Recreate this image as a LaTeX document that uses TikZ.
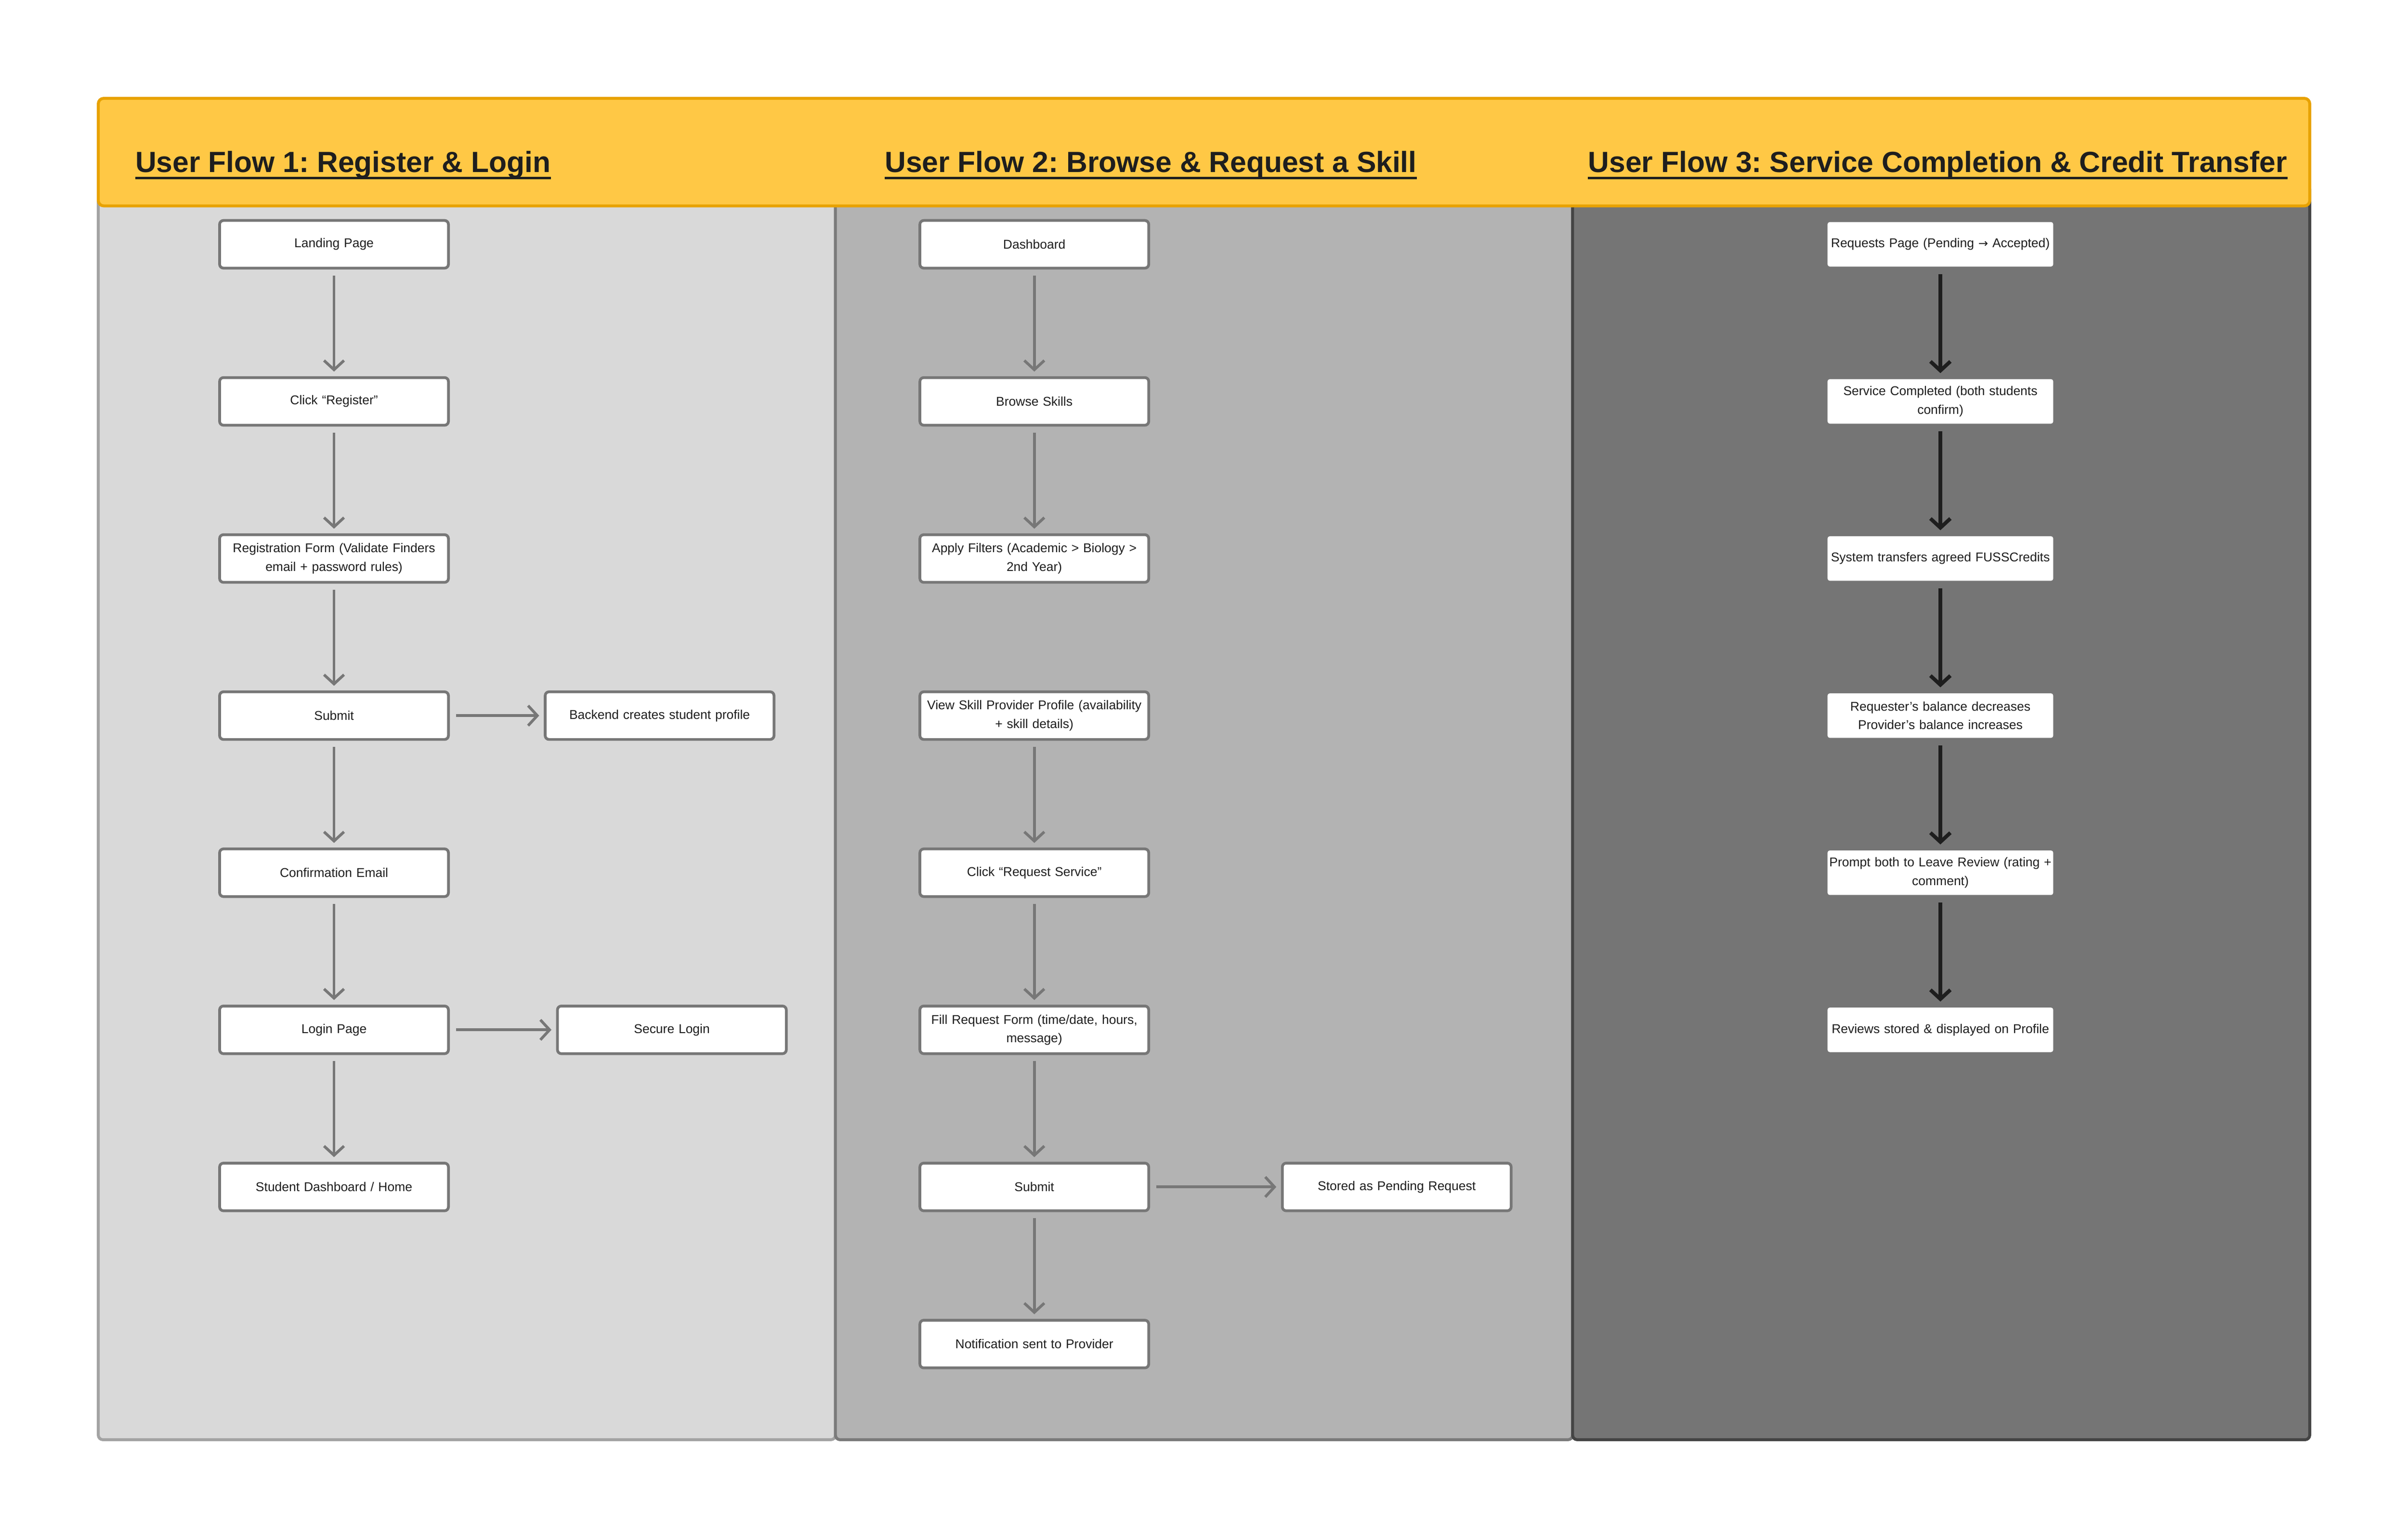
\documentclass[tikz,border=0pt]{standalone}
\usepackage{fontspec}
\setmainfont{Liberation Sans}
\newfontfamily\symbolfont{DejaVu Sans}
\usepackage{xcolor}
\usepackage{tikz}
\usetikzlibrary{positioning,calc,arrows.meta}
\frenchspacing

\definecolor{headfill}{HTML}{FFC845}
\definecolor{headline}{HTML}{E8A200}
\definecolor{laneonefill}{HTML}{D9D9D9}
\definecolor{laneoneline}{HTML}{A3A3A3}
\definecolor{lanetwofill}{HTML}{B3B3B3}
\definecolor{lanetwoline}{HTML}{7A7A7A}
\definecolor{lanethreefill}{HTML}{757575}
\definecolor{lanethreeline}{HTML}{444444}
\definecolor{boxline}{HTML}{777777}
\definecolor{ink}{HTML}{1E1E1E}

\tikzset{
    flowbox/.style={draw=boxline, line width=1.8pt, fill=white, rounded corners=2.5pt,
        minimum width=149pt, minimum height=31pt, text width=146pt, inner xsep=1.5pt,
        inner ysep=0pt, align=center, text=ink, font=\fontsize{8.3}{12}\selectfont},
    darkbox/.style={flowbox, draw=none, minimum width=147pt, minimum height=29pt,
        text width=145pt, inner xsep=1pt, rounded corners=1.5pt},
    flowarrow/.style={draw=boxline, line width=1.8pt, shorten <=4pt, shorten >=3pt,
        -{Straight Barb[length=6pt,width=13pt]}},
    darkarrow/.style={flowarrow, draw=ink, line width=2.4pt},
    flowtitle/.style={anchor=base west, inner sep=0pt, text=ink,
        font=\fontsize{19}{22}\selectfont\bfseries},
    lane/.style={line width=1.9pt, rounded corners=3pt}
}

\begin{document}
\begin{tikzpicture}[x=1pt, y=-1pt]
    \useasboundingbox (0,0) rectangle (1568,1001.4);

    % Swim lanes
    \draw [lane, fill=laneonefill, draw=laneoneline] (64,120) rectangle (544,937);
    \draw [lane, fill=lanetwofill, draw=lanetwoline] (544,120) rectangle (1024,937);
    \draw [lane, fill=lanethreefill, draw=lanethreeline] (1024,120) rectangle (1504,937);

    % Header band
    \draw [fill=headfill, draw=headline, line width=1.9pt, rounded corners=3.5pt] (64,64) rectangle (1504,134);

    % Titles
    \node [flowtitle] (t1) at (88,112) {User Flow 1: Register \& Login};
    \node [flowtitle] (t2) at (576,112) {User Flow 2: Browse \& Request a Skill};
    \node [flowtitle] (t3) at (1034,112) {User Flow 3: Service Completion \& Credit Transfer};
    \foreach \t in {t1,t2,t3} {
        \draw [ink, line width=1.6pt] ([yshift=-4pt]\t.base west) -- ([yshift=-4pt]\t.base east);
    }

    % Flow 1: register and login
    \foreach \i/\label in {1/Landing Page, 2/Click “Register”,
        3/{Registration Form (Validate Finders\\ email + password rules)}, 4/Submit,
        5/Confirmation Email, 6/Login Page, 7/{Student Dashboard / Home}} {
        \pgfmathsetmacro{\pos}{159+(\i-1)*102.25}
        \node [flowbox] (A\i) at (217.5, \pos) {\label};
    }
    \node [flowbox] (backend) at (429.5, 465.75) {Backend creates student profile};
    \node [flowbox] (secure) at (437.5, 670.25) {Secure Login};

    % Flow 2: browse and request
    \foreach \i/\label in {1/Dashboard, 2/Browse Skills,
        3/{Apply Filters (Academic > Biology >\\ 2nd Year)},
        4/{View Skill Provider Profile (availability\\ + skill details)},
        5/Click “Request Service”, 6/{Fill Request Form (time/date, hours,\\ message)},
        7/Submit, 8/Notification sent to Provider} {
        \pgfmathsetmacro{\pos}{159+(\i-1)*102.25}
        \node [flowbox] (B\i) at (673.5, \pos) {\label};
    }
    \node [flowbox] (stored) at (909.5, 772.5) {Stored as Pending Request};

    % Flow 3: completion and credit transfer
    \foreach \i/\label in {1/{Requests Page (Pending {\symbolfont\fontsize{7.6}{12}\selectfont →} Accepted)},
        2/{Service Completed (both students\\ confirm)}, 3/System transfers agreed FUSSCredits,
        4/{Requester’s balance decreases\\ Provider’s balance increases},
        5/{Prompt both to Leave Review (rating +\\ comment)},
        6/Reviews stored \& displayed on Profile} {
        \pgfmathsetmacro{\pos}{159+(\i-1)*102.25}
        \node [darkbox] (C\i) at (1263.5, \pos) {\label};
    }

    % Connectors
    \foreach \i in {1,...,6} {
        \pgfmathtruncatemacro{\j}{\i+1}
        \draw [flowarrow] (A\i) -- (A\j);
    }
    \foreach \i in {1,2,4,5,6,7} {
        \pgfmathtruncatemacro{\j}{\i+1}
        \draw [flowarrow] (B\i) -- (B\j);
    }
    \foreach \i in {1,...,5} {
        \pgfmathtruncatemacro{\j}{\i+1}
        \draw [darkarrow] (C\i) -- (C\j);
    }
    \draw [flowarrow] (A4) -- (backend);
    \draw [flowarrow] (A6) -- (secure);
    \draw [flowarrow] (B7) -- (stored);
\end{tikzpicture}
\end{document}
